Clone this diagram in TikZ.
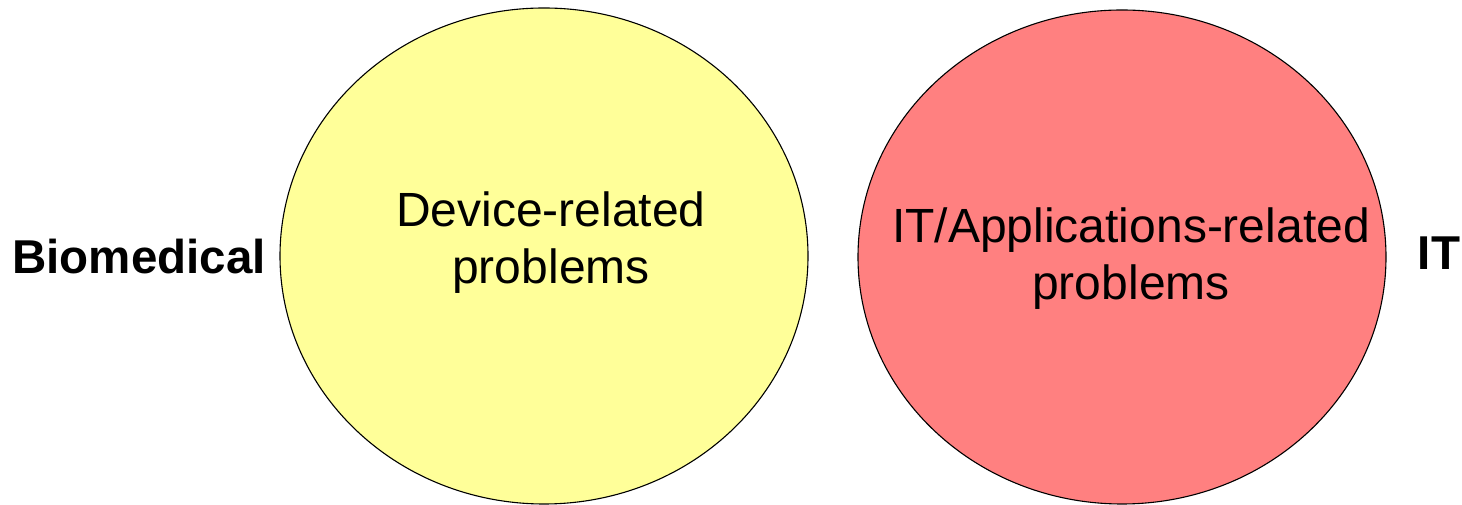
\documentclass[tikz,border=0pt]{standalone}
\usepackage{fontspec}
\setmainfont{Liberation Sans}
\definecolor{devyellow}{RGB}{255,255,153}
\definecolor{itred}{RGB}{255,128,128}
\begin{document}
\begin{tikzpicture}[x=1pt,y=1pt,
  ringshape/.style={draw=black,line width=1.1pt},
  insidetext/.style={font=\fontsize{48}{57}\selectfont,align=center,anchor=base,inner sep=0pt},
  sidetext/.style={font=\fontsize{47.5}{56}\selectfont\bfseries,anchor=base,inner sep=0pt}]
\useasboundingbox (0,0) rectangle (1462,505);
\draw[ringshape,fill=devyellow] (544,249) ellipse [x radius=264, y radius=248];
\draw[ringshape,fill=itred] (1122,248) ellipse [x radius=264, y radius=247];
\node[insidetext] (dev) at (551,221) {Device-related\\problems};
\node[insidetext] (itp) at (1131,205) {IT/Applications-related\\problems};
\node[sidetext] (bio) at (139,231) {Biomedical};
\node[sidetext] (it) at (1439,235) {IT};
\end{tikzpicture}
\end{document}
